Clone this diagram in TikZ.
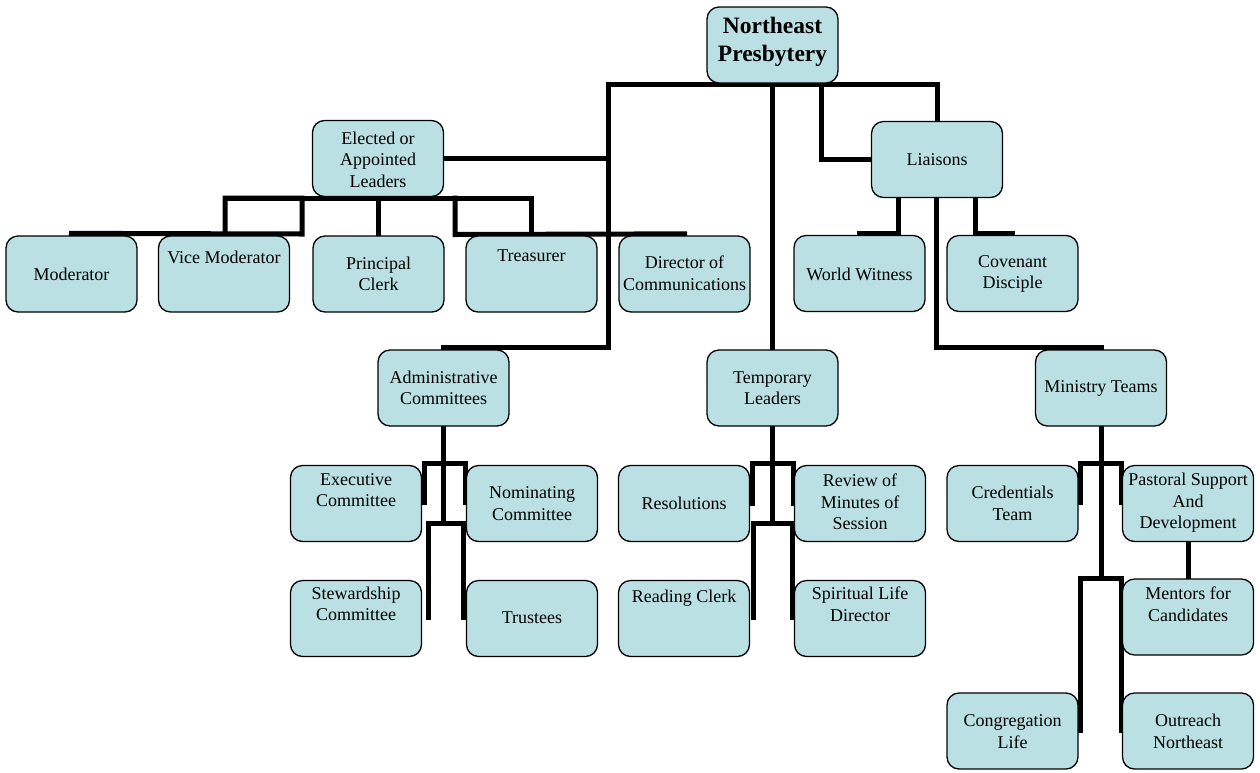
\documentclass[tikz,border=0pt]{standalone}
\usepackage{fontspec}
\setmainfont{Liberation Serif}
\usetikzlibrary{calc,backgrounds}
\definecolor{boxfill}{RGB}{187,224,227}
\newcommand{\orgbox}[5]{%
  \node[orgbox] (#1) at (#2,#3) {};
  \node[orgtxt] (#1-t) at (#2,#4) {#5};}
\begin{document}
\begin{tikzpicture}[x=1pt,y=-1pt,
  orgbox/.style={draw=black, line width=1.3pt, rounded corners=12pt, fill=boxfill,
    minimum width=131pt, minimum height=76pt, inner sep=0pt},
  orgtxt/.style={align=center, inner sep=0pt, font=\fontsize{18}{21.6}\selectfont},
  titletxt/.style={align=center, inner sep=0pt, font=\fontsize{23.5}{28}\selectfont\bfseries},
  conn/.style={line width=5pt, line join=miter, line cap=rect}]
\useasboundingbox (0,0) rectangle (1260,772);
% boxes
\node[orgbox] (top) at (772.5,45) {};
\node[titletxt] (top-t) at (772.5,42) {Northeast\\Presbytery};
\orgbox{ela}{378}{158.5}{159.5}{Elected or\\Appointed\\Leaders}
\orgbox{lia}{937}{159.5}{160}{Liaisons}
\orgbox{mod}{71.5}{274}{274}{Moderator}
\orgbox{vmod}{224}{274}{257}{Vice Moderator}
\orgbox{pcl}{378.5}{274}{274}{Principal\\Clerk}
\orgbox{tre}{531.5}{274}{256}{Treasurer}
\orgbox{dir}{684.5}{274}{273.5}{Director of\\Communications}
\orgbox{ww}{859.5}{273.5}{274}{World Witness}
\orgbox{cov}{1012.5}{273.5}{274}{Covenant\\Disciple}
\orgbox{adm}{443.5}{388}{388}{Administrative\\Committees}
\orgbox{tmp}{772.5}{388}{388}{Temporary\\Leaders}
\orgbox{min}{1101}{388}{388}{Ministry Teams}
\orgbox{exe}{356}{503.5}{490}{Executive\\Committee}
\orgbox{nom}{532}{503.5}{503.5}{Nominating\\Committee}
\orgbox{res}{684}{503.5}{503}{Resolutions}
\orgbox{rev}{860}{503.5}{502}{Review of\\Minutes of\\Session}
\orgbox{cre}{1012.5}{503.5}{503.5}{Credentials\\Team}
\orgbox{pas}{1188}{503.5}{503}{Pastoral Support\\And\\Development}
\orgbox{ste}{356}{618.5}{604}{Stewardship\\Committee}
\orgbox{tru}{532}{618.5}{618}{Trustees}
\orgbox{rea}{684}{618.5}{598}{Reading Clerk}
\orgbox{spi}{860}{618.5}{604}{Spiritual Life\\Director}
\orgbox{men}{1188}{617}{604}{Mentors for\\Candidates}
\orgbox{con}{1012.5}{731}{731.5}{Congregation\\Life}
\orgbox{out}{1188}{731}{731.5}{Outreach\\Northeast}
% connectors
\begin{scope}[on background layer]
\draw[conn] ($(adm.north)+(0,-1.5)$) -| (608,84) -| (lia.north);
\draw[conn] (tmp.north) -- (tmp.north |- top.south);
\draw[conn] (lia.west) -| (821.5,84);
\draw[conn] (ela.east) -| (608,84);
% elected children
\draw[conn] ($(mod.north)+(0,-2)$) -- (302,234) -- (302,198) -- (225,198) -- (225,234);
\draw[conn] (225,198) -- (531,198) -- (531,234);
\draw[conn] (pcl.north) -- (pcl.north |- ela.south);
\draw[conn] ($(dir.north)+(0,-1.5)$) -- (455,234.5) -- (455,198);
% liaisons children
\draw[conn] ($(ww.north)+(0,-1.5)$) -| (898,197);
\draw[conn] ($(cov.north)+(0,-1.5)$) -| (975,197);
\draw[conn] ($(min.north)+(0,-1.5)$) -| (936.5,197);
% administrative committees children
\draw[conn] (adm.south) -- (443.5,523);
\draw[conn] (424,502) -- (424,463.5) -- (465,463.5) -- (465,502);
\draw[conn] (428,617) -- (428,523) -- (463,523) -- (463,617);
% temporary leaders children
\draw[conn] (tmp.south) -- (772.5,523);
\draw[conn] (752,503) -- (752,463.5) -- (793,463.5) -- (793,503);
\draw[conn] (753,617) -- (753,523) -- (792,523) -- (792,617);
% ministry teams children
\draw[conn] (min.south) -- (1101,578);
\draw[conn] (1080,502) -- (1080,463.5) -- (1121,463.5) -- (1121,502);
\draw[conn] (1080,730) -- (1080,578) -- (1121,578) -- (1121,730);
\draw[conn] (pas.south) -- (men.north);
\end{scope}
\end{tikzpicture}
\end{document}
